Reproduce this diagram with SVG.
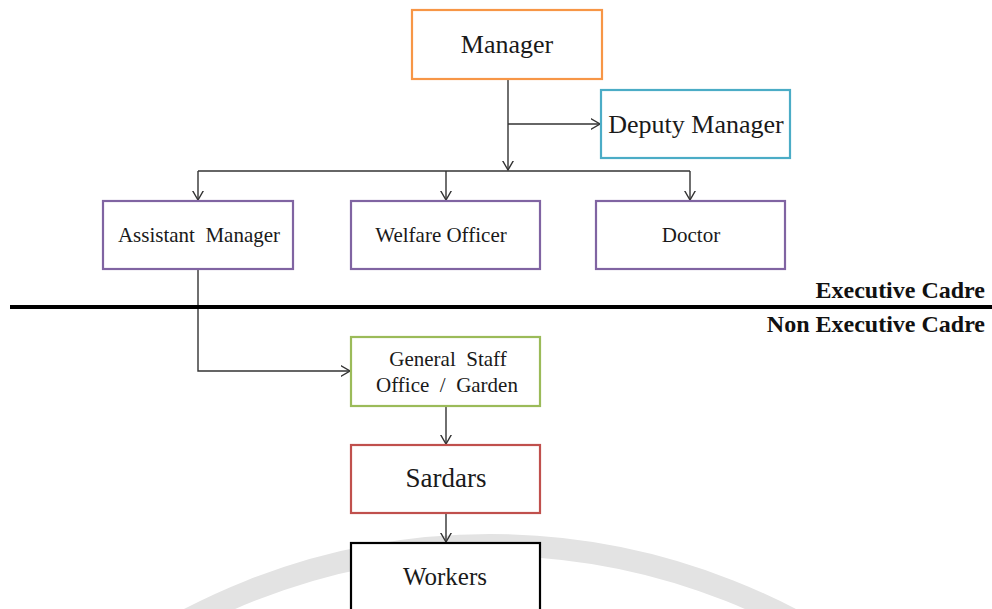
<svg xmlns="http://www.w3.org/2000/svg" width="992" height="609" viewBox="0 0 992 609">
<style>
.box{fill:#fff;stroke-width:2.2}
.t{font-family:"Liberation Serif","Times New Roman",serif;fill:#1a1a1a;text-anchor:middle}
.c{fill:none;stroke:#333;stroke-width:1.4}
.cadre{font-family:"Liberation Serif","Times New Roman",serif;font-weight:bold;font-size:24px;fill:#111;text-anchor:end}
</style>
<defs>
<marker id="arr" viewBox="0 0 10 12" refX="9.5" refY="6" markerWidth="10" markerHeight="12" markerUnits="userSpaceOnUse" orient="auto">
<path d="M0,0.5 L9.5,6 L0,11.5" fill="none" stroke="#333" stroke-width="1.4"/>
</marker>
</defs>
<rect width="992" height="609" fill="#fff"/>
<g id="watermark">
<circle cx="490" cy="1195" r="650" fill="none" stroke="#e3e3e3" stroke-width="22"/>
</g>
<g id="connectors">
<path class="c" d="M508,79 V170" marker-end="url(#arr)"/>
<path class="c" d="M508,124 H600" marker-end="url(#arr)"/>
<path class="c" d="M198,171 H690"/>
<path class="c" d="M198,171 V200" marker-end="url(#arr)"/>
<path class="c" d="M446,171 V200" marker-end="url(#arr)"/>
<path class="c" d="M690,171 V200" marker-end="url(#arr)"/>
<path class="c" d="M198,269 V371 H350" marker-end="url(#arr)"/>
<path class="c" d="M446,406 V444" marker-end="url(#arr)"/>
<path class="c" d="M446,513 V542" marker-end="url(#arr)"/>
</g>
<g id="divider">
<line x1="10" y1="307" x2="992" y2="307" stroke="#000" stroke-width="4"/>
<text class="cadre" x="985" y="298">Executive Cadre</text>
<text class="cadre" x="985" y="332">Non Executive Cadre</text>
</g>
<g id="manager">
<rect class="box" x="412" y="10" width="190" height="69" stroke="#F79646"/>
<text class="t" x="507" y="53" font-size="26">Manager</text>
</g>
<g id="deputy-manager">
<rect class="box" x="601" y="90" width="189" height="68" stroke="#4BACC6"/>
<text class="t" x="696" y="133" font-size="26">Deputy Manager</text>
</g>
<g id="assistant-manager">
<rect class="box" x="103" y="201" width="190" height="68" stroke="#8064A2"/>
<text class="t" x="199" y="242" font-size="21" xml:space="preserve">Assistant  Manager</text>
</g>
<g id="welfare-officer">
<rect class="box" x="351" y="201" width="189" height="68" stroke="#8064A2"/>
<text class="t" x="441" y="242" font-size="21">Welfare Officer</text>
</g>
<g id="doctor">
<rect class="box" x="596" y="201" width="189" height="68" stroke="#8064A2"/>
<text class="t" x="691" y="242" font-size="21">Doctor</text>
</g>
<g id="general-staff">
<rect class="box" x="351" y="337" width="189" height="69" stroke="#9BBB59"/>
<text class="t" x="448" y="366" font-size="21" xml:space="preserve">General  Staff</text>
<text class="t" x="447" y="392" font-size="21" xml:space="preserve">Office  /  Garden</text>
</g>
<g id="sardars">
<rect class="box" x="351" y="445" width="189" height="68" stroke="#C0504D"/>
<text class="t" x="446" y="487" font-size="27">Sardars</text>
</g>
<g id="workers">
<rect class="box" x="351" y="543" width="189" height="80" stroke="#000"/>
<text class="t" x="445" y="585" font-size="25">Workers</text>
</g>
</svg>
